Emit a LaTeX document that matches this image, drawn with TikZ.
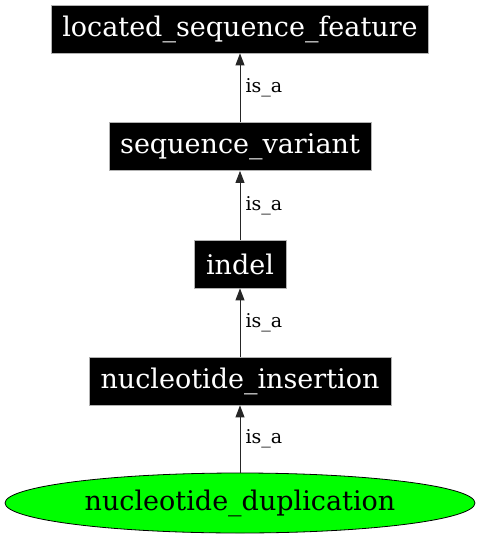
\documentclass[tikz,border=0pt]{standalone}
\usepackage{fontspec}
\setmainfont{DejaVu Serif}
\usetikzlibrary{arrows.meta}
\usetikzlibrary{shapes.geometric}

\begin{document}
\begin{tikzpicture}[x=1pt,y=-1pt,
  termbox/.style={rectangle,fill=black,draw=gray!60,line width=0.8pt,text=white,inner sep=0pt,
    minimum height=48pt,font=\fontsize{27}{30}\selectfont},
  leafnode/.style={ellipse,fill=green,draw=black,line width=0.8pt,inner sep=0pt,
    minimum width=470pt,minimum height=60pt,font=\fontsize{27}{30}\selectfont},
  isa/.style={draw=black!85,line width=1pt,-{Triangle[length=12pt,width=9pt]}},
  isalabel/.style={right,inner sep=5pt,font=\fontsize{19}{21}\selectfont}]
 \useasboundingbox (0,0) rectangle (480,536);
 \node[termbox,minimum width=377pt] (lsf) at (240,29) {located\_sequence\_feature};
 \node[termbox,minimum width=262pt] (sv) at (240,146.5) {sequence\_variant};
 \node[termbox,minimum width=92pt] (indel) at (240,264) {indel};
 \node[termbox,minimum width=302pt] (ins) at (240,381) {nucleotide\_insertion};
 \node[leafnode] (dup) at (240,503) {nucleotide\_duplication};
 \draw[isa] (sv) -- node[isalabel]{is\_a} (lsf);
 \draw[isa] (indel) -- node[isalabel]{is\_a} (sv);
 \draw[isa] (ins) -- node[isalabel]{is\_a} (indel);
 \draw[isa] (dup) -- node[isalabel]{is\_a} (ins);
\end{tikzpicture}
\end{document}
